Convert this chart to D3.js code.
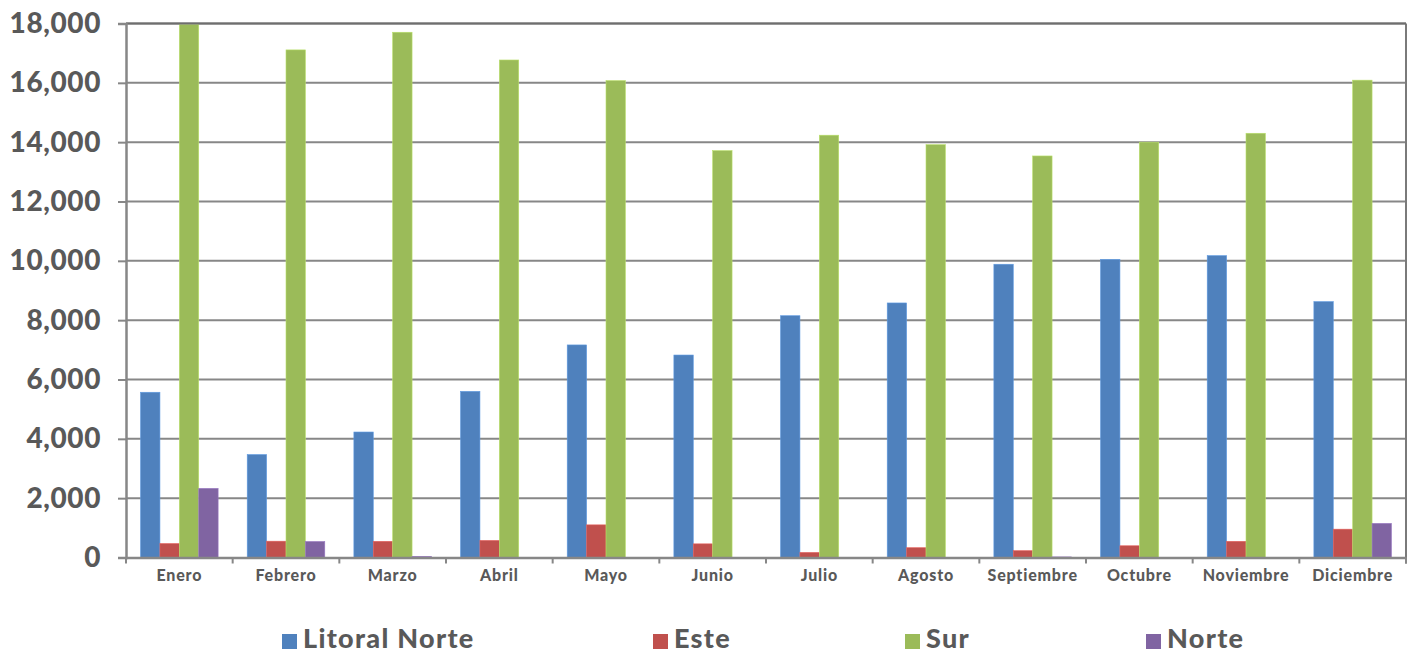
<!DOCTYPE html>
<html><head><meta charset="utf-8">
<script src="https://cdn.jsdelivr.net/npm/d3@7"></script>
<style>body{margin:0;background:#fff}svg{display:block}</style>
</head><body>
<svg id="chart" width="1415" height="654"></svg>
<script>
const months = ["Enero","Febrero","Marzo","Abril","Mayo","Junio","Julio","Agosto","Septiembre","Octubre","Noviembre","Diciembre"];
const seriesNames = ["Litoral Norte","Este","Sur","Norte"];
const litoralNorte = [5570,3470,4230,5600,7165,6825,8150,8580,9885,10050,10175,8625];
const este = [470,550,545,575,1100,460,170,330,230,395,545,955];
const sur = [17960,17110,17705,16770,16075,13715,14235,13915,13535,14000,14300,16090];
const norte = [2330,540,40,0,0,0,0,0,20,0,0,1150];
const colors = ["#4F81BD","#C0504D","#9BBB59","#8064A2"];
const yTicks = [0,2000,4000,6000,8000,10000,12000,14000,16000,18000];

const allSeries = [litoralNorte, este, sur, norte];
const svg = d3.select("#chart");
const m = {left:126, right:1406, top:23.5, bottom:557.5};
const font = "Lato, 'Open Sans', sans-serif";
const textColor = "#595959";

const x = d3.scaleBand().domain(months).range([m.left, m.right]).paddingInner(0).paddingOuter(0);
const bw = x.bandwidth()/5.5; // gap width 150%
const y = d3.scaleLinear().domain([0,18000]).range([m.bottom, m.top]);

// gridlines
svg.append("g").selectAll("line").data(yTicks.slice(1)).join("line")
  .attr("x1", m.left).attr("x2", m.right)
  .attr("y1", d=>y(d)).attr("y2", d=>y(d))
  .attr("stroke", "#878787").attr("stroke-width", 2);

// bars
const g = svg.append("g");
allSeries.forEach((vals, si) => {
  g.selectAll(null).data(vals).join("rect")
    .attr("x", (d,i) => x(months[i]) + 0.75*bw + si*bw)
    .attr("width", bw)
    .attr("y", d => y(d))
    .attr("height", d => y(0) - y(d))
    .attr("fill", colors[si])
    .attr("stroke", d3.color(colors[si]).brighter(0.5))
    .attr("stroke-width", 0.6);
});

// plot border (right & top)
svg.append("line").attr("x1", m.right).attr("x2", m.right).attr("y1", m.top).attr("y2", m.bottom+6)
  .attr("stroke", "#7a7a7a").attr("stroke-width", 2);
svg.append("line").attr("x1", m.left).attr("x2", m.right).attr("y1", m.top).attr("y2", m.top)
  .attr("stroke", "#6e6e6e").attr("stroke-width", 2);

// y axis
const yAxis = d3.axisLeft(y).tickValues(yTicks).tickSize(8).tickFormat(d3.format(","));
const ya = svg.append("g").attr("transform", `translate(${m.left},0)`).call(yAxis);
ya.select(".domain").attr("stroke", "#878787").attr("stroke-width", 2.5);
ya.selectAll(".tick line").attr("stroke", "#878787").attr("stroke-width", 2);
ya.selectAll(".tick text").attr("x", -25).attr("fill", textColor)
  .style("font-family", font).style("font-size", "28px").style("font-weight", 900)
  .style("letter-spacing", "0.6px");

// x axis
const xa = svg.append("g").attr("transform", `translate(0,${m.bottom})`)
  .call(d3.axisBottom(x).tickSize(0).tickPadding(12));
xa.select(".domain").attr("stroke", "#878787").attr("stroke-width", 2.5);
xa.selectAll(".tick text").attr("fill", textColor)
  .style("font-family", font).style("font-size", "16px").style("font-weight", 900)
  .style("letter-spacing", "0.8px");
// category boundary ticks
const bounds = months.map(mo => x(mo)).concat([m.right]);
xa.append("g").selectAll("line").data(bounds).join("line")
  .attr("x1", d=>d).attr("x2", d=>d).attr("y1", 0).attr("y2", 6)
  .attr("stroke", "#878787").attr("stroke-width", 2);

// legend
const legX = [282, 653, 905, 1146];
const leg = svg.append("g");
seriesNames.forEach((n, i) => {
  leg.append("rect").attr("x", legX[i]).attr("y", 634).attr("width", 15).attr("height", 15).attr("fill", colors[i]);
  leg.append("text").attr("x", legX[i] + 21).attr("y", 648).text(n)
    .attr("fill", textColor).style("font-family", font).style("font-size", "27px").style("font-weight", 900)
    .style("letter-spacing", "1.3px");
});
</script>
</body></html>
